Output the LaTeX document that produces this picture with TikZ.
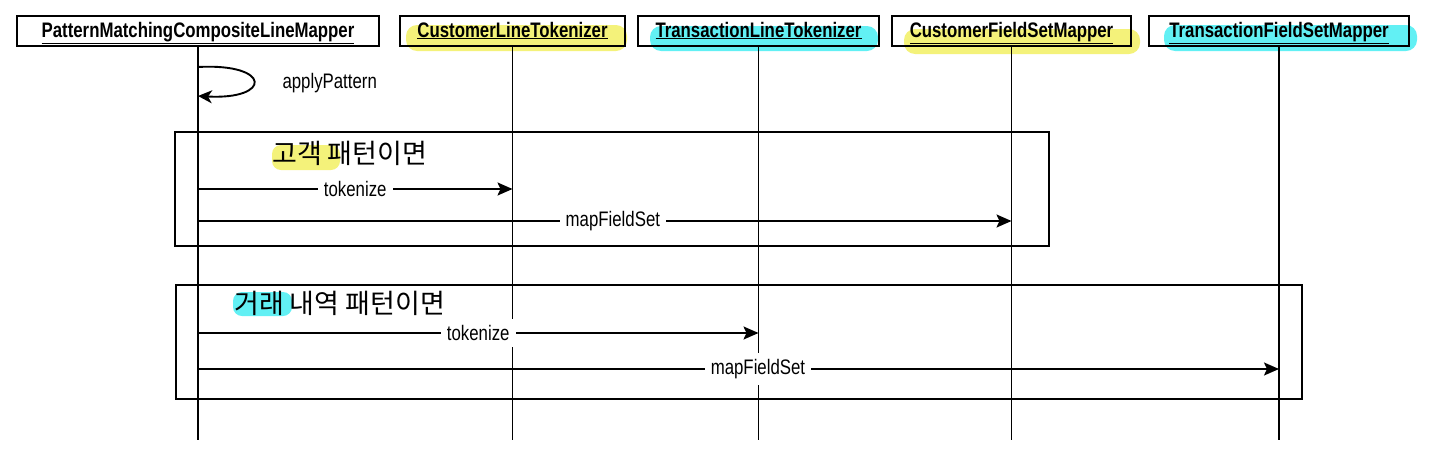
\documentclass[tikz,border=0pt]{standalone}
\usepackage{fontspec}
\setmainfont{Liberation Sans}[FakeStretch=0.8]
\newfontfamily\kr{Noto Sans CJK KR}
\usetikzlibrary{arrows.meta}
\definecolor{hly}{HTML}{F4F27A}
\definecolor{hlc}{HTML}{62F0F4}
\tikzset{
  x=1pt, y=-1pt,
  obj/.style={draw, line width=1.8pt, minimum height=30pt, inner sep=0pt,
    text height=15pt, text depth=3pt,
    font=\fontsize{21}{23}\selectfont\bfseries},
  life/.style={line width=1.4pt},
  msg/.style={line width=1.9pt, -{Stealth[length=15pt,width=13pt,inset=3pt]}},
  mlab/.style={fill=white, inner sep=6pt, font=\fontsize{21}{23}\selectfont},
  frame/.style={draw, line width=2.6pt},
  flab/.style={font=\kr\fontsize{27}{29}\selectfont, anchor=west, inner sep=0pt},
  hl/.style={rounded corners=11pt},
}
\begin{document}
\begin{tikzpicture}
\useasboundingbox (0,0) rectangle (1442,458);
% highlights
\fill[hly,hl] (406,25) rectangle (627,51);
\fill[hlc,hl] (650,26) rectangle (878,51);
\fill[hly,hl] (904,29) rectangle (1140,54);
\fill[hlc,hl] (1164,25) rectangle (1417,51);
\fill[hly,rounded corners=9pt] (272,145) rectangle (340,170);
\fill[hlc,rounded corners=9pt] (233,292) rectangle (292,316);
% objects
\node[obj, minimum width=362pt] (pm) at (198,31) {\underline{PatternMatchingCompositeLineMapper}};
\node[obj, minimum width=225pt] (clt) at (512.5,31) {\underline{CustomerLineTokenizer}};
\node[obj, minimum width=241pt] (tlt) at (758.5,31) {\underline{TransactionLineTokenizer}};
\node[obj, minimum width=239pt] (cfm) at (1011.5,31) {\underline{CustomerFieldSetMapper}};
\node[obj, minimum width=260pt] (tfm) at (1279,31) {\underline{TransactionFieldSetMapper}};
% lifeline ends
\coordinate (pmE) at (pm.south |- 0,440);
\coordinate (cltE) at (clt.south |- 0,440);
\coordinate (tltE) at (tlt.south |- 0,440);
\coordinate (cfmE) at (cfm.south |- 0,440);
\coordinate (tfmE) at (tfm.south |- 0,440);
\draw[life] (pm) -- (pmE);
\draw[life] (clt) -- (cltE);
\draw[life] (tlt) -- (tltE);
\draw[life] (cfm) -- (cfmE);
\draw[life] (tfm) -- (tfmE);
% self loop
\coordinate (s1) at (pm.south |- 0,67);
\coordinate (s2) at (pm.south |- 0,96);
\draw[line width=1.9pt, -{Stealth[length=14pt,width=13pt,inset=4pt]}] (s1) .. controls (272,63) and (272,100) .. (s2);
\node[font=\fontsize{21}{23}\selectfont, anchor=west] (ap) at (279,83) {applyPattern};
% frame 1
\node[frame, minimum width=874pt, minimum height=114pt, inner sep=0pt] (f1) at (612,189) {};
\node[flab] (f1l) at (272,153) {고객 패턴이면};
\coordinate (a1s) at (pm.south |- 0,189);
\coordinate (a1e) at (clt.south |- 0,189);
\draw[msg] (a1s) -- node[mlab] {tokenize} (a1e);
\coordinate (a2s) at (pm.south |- 0,221);
\coordinate (a2e) at (cfm.south |- 0,221);
\draw[msg] (a2s) -- node[mlab, pos=0.51] {mapFieldSet} (a2e);
% frame 2
\node[frame, minimum width=1126pt, minimum height=114pt, inner sep=0pt] (f2) at (739,342) {};
\node[flab] (f2l) at (234,303) {거래 내역 패턴이면};
\coordinate (b1s) at (pm.south |- 0,333);
\coordinate (b1e) at (tlt.south |- 0,333);
\draw[msg] (b1s) -- node[mlab] {tokenize} (b1e);
\coordinate (b2s) at (pm.south |- 0,369);
\coordinate (b2e) at (tfm.south |- 0,369);
\draw[msg] (b2s) -- node[mlab, pos=0.518] {mapFieldSet} (b2e);
\end{tikzpicture}
\end{document}
